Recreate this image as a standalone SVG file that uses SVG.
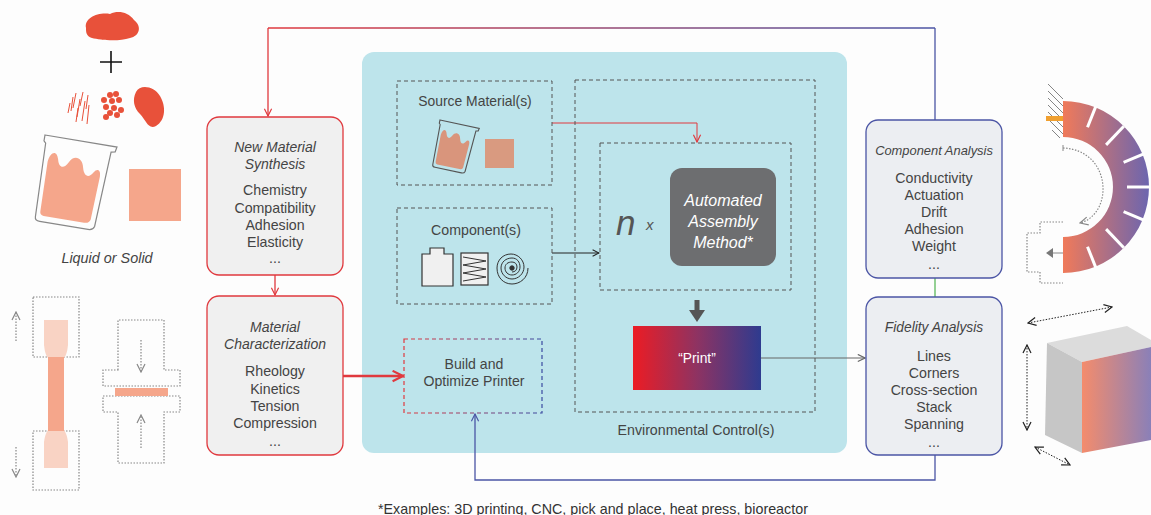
<svg xmlns="http://www.w3.org/2000/svg" width="1151" height="515" viewBox="0 0 1151 515">
  <style>
    text { font-family: "Liberation Sans", Arial, sans-serif; fill: #444; }
    .t { font-size: 14.2px; text-anchor: middle; }
    .ti { font-size: 14px; text-anchor: middle; font-style: italic; }
    .rbox { fill: #f0f0f0; stroke: #e0393e; stroke-width: 1.3; }
    .bbox { fill: #eceef2; stroke: #4b55a5; stroke-width: 1.3; }
    .dash { fill: none; stroke: #555; stroke-width: 1; stroke-dasharray: 4 3; }
    .dot { fill: none; stroke: #888; stroke-width: 1.2; stroke-dasharray: 1.5 1.5; }
    .beaker { fill: none; stroke: #888; stroke-width: 1.2; }
  </style>
  <defs>
    <marker id="arR" viewBox="0 0 10 10" refX="9" refY="5" markerWidth="9" markerHeight="9" markerUnits="userSpaceOnUse" orient="auto">
      <path d="M1,1 L9,5 L1,9" fill="none" stroke="#e0393e" stroke-width="1.3"/>
    </marker>
    <marker id="arRB" viewBox="0 0 10 10" refX="9" refY="5" markerWidth="13" markerHeight="13" markerUnits="userSpaceOnUse" orient="auto">
      <path d="M1,1 L9,5 L1,9" fill="none" stroke="#e0393e" stroke-width="1.6"/>
    </marker>
    <marker id="arB" viewBox="0 0 10 10" refX="9" refY="5" markerWidth="9" markerHeight="9" markerUnits="userSpaceOnUse" orient="auto">
      <path d="M1,1 L9,5 L1,9" fill="none" stroke="#4b55a5" stroke-width="1.3"/>
    </marker>
    <marker id="arK" viewBox="0 0 10 10" refX="9" refY="5" markerWidth="8" markerHeight="8" markerUnits="userSpaceOnUse" orient="auto">
      <path d="M1,1 L9,5 L1,9" fill="none" stroke="#222" stroke-width="1.3"/>
    </marker>
    <marker id="arG" viewBox="0 0 10 10" refX="9" refY="5" markerWidth="9" markerHeight="9" markerUnits="userSpaceOnUse" orient="auto">
      <path d="M1,1 L9,5 L1,9" fill="none" stroke="#666" stroke-width="1.3"/>
    </marker>
    <marker id="arD" viewBox="0 0 10 10" refX="9" refY="5" markerWidth="10" markerHeight="10" markerUnits="userSpaceOnUse" orient="auto-start-reverse">
      <path d="M1,1 L9,5 L1,9" fill="none" stroke="#222" stroke-width="1.2"/>
    </marker>
    <marker id="arL" viewBox="0 0 10 10" refX="9" refY="5" markerWidth="10" markerHeight="10" markerUnits="userSpaceOnUse" orient="auto">
      <path d="M1,1 L9,5 L1,9" fill="none" stroke="#888" stroke-width="1.2"/>
    </marker>
    <linearGradient id="gTop" gradientUnits="userSpaceOnUse" x1="268" y1="0" x2="935" y2="0">
      <stop offset="0" stop-color="#e0393e"/>
      <stop offset="1" stop-color="#4b55a5"/>
    </linearGradient>
    <linearGradient id="gBuild" gradientUnits="userSpaceOnUse" x1="404" y1="0" x2="542" y2="0">
      <stop offset="0" stop-color="#e0393e"/>
      <stop offset="1" stop-color="#3a4aa0"/>
    </linearGradient>
    <linearGradient id="gPrint" x1="0" y1="0" x2="1" y2="0">
      <stop offset="0" stop-color="#ec1c24"/>
      <stop offset="0.5" stop-color="#8e3362"/>
      <stop offset="1" stop-color="#2e3b8f"/>
    </linearGradient>
    <linearGradient id="gArc" gradientUnits="userSpaceOnUse" x1="1063" y1="0" x2="1150" y2="0">
      <stop offset="0" stop-color="#f07a5a"/>
      <stop offset="1" stop-color="#6a65b0"/>
    </linearGradient>
    <linearGradient id="gCube" gradientUnits="userSpaceOnUse" x1="1082" y1="0" x2="1151" y2="0">
      <stop offset="0" stop-color="#f48c6c"/>
      <stop offset="1" stop-color="#8a80b8"/>
    </linearGradient>
    <path id="beakerBody" d="M0,0 L73,0 L72,5 L68,6 L64,82 Q63,86 58,86 L9,86 Q4,86 4,82 L2,8 L0,6 Z"/>
    <path id="beakerFill" d="M7,26 C8,16 14,12 17,22 C19,30 24,31 28,23 C32,14 41,16 43,26 C45,34 50,36 54,29 C57,24 61,25 61,32 L59,76 Q58,80 53,80 L12,80 Q8,80 8,76 Z"/>
  </defs>

  <rect width="1151" height="515" fill="#fdfdfd"/>

  <!-- raw ingredients, left column -->
  <g id="ingredients">
    <path d="M86,28 C84,18 98,12 110,14 C118,10 128,12 134,20 C142,26 140,36 130,38 C118,42 100,40 92,38 C86,36 86,32 86,28 Z" fill="#e8513a"/>
    <path d="M100,62 L122,62 M111,51 L111,73" stroke="#111" stroke-width="1.6"/>
    <g stroke="#e8513a" stroke-width="1">
      <path d="M70,103 L68,113 M73,97 L71,111 M76,93 L73,108 M80,99 L77,117 M83,92 L80,106 M85,101 L82,121 M88,95 L86,109 M89,105 L87,124 M78,108 L76,122"/>
    </g>
    <g fill="#e8513a">
      <circle cx="110" cy="95" r="3"/><circle cx="116" cy="94" r="3"/><circle cx="104" cy="100" r="3"/>
      <circle cx="112" cy="101" r="3"/><circle cx="119" cy="100" r="3"/><circle cx="106" cy="107" r="3"/>
      <circle cx="114" cy="108" r="3"/><circle cx="121" cy="110" r="3"/><circle cx="110" cy="113" r="3"/>
      <circle cx="117" cy="115" r="3"/><circle cx="106" cy="117" r="3"/>
    </g>
    <path d="M136,92 C140,84 154,86 160,96 C166,106 166,120 156,126 C148,130 146,120 140,114 C134,108 132,100 136,92 Z" fill="#e8513a"/>
    <g transform="translate(45,135) rotate(9.5)">
      <use href="#beakerFill" fill="#f5a68b"/>
      <use href="#beakerBody" class="beaker"/>
    </g>
    <rect x="129" y="169" width="52" height="52" fill="#f5a68b"/>
    <text x="107" y="263" class="ti" style="font-size:14.4px">Liquid or Solid</text>
  </g>

  <!-- tensile and compression test sketches -->
  <g id="tests">
    <rect x="33" y="297" width="46" height="60" class="dot"/>
    <rect x="33" y="431" width="46" height="59" class="dot"/>
    <path d="M44,320 L68,320 L68,345 Q67,355 64,358 L64,430 Q67,434 68,442 L68,468 L44,468 L44,442 Q45,434 48,430 L48,358 Q45,355 44,345 Z" fill="#f9d3c4"/>
    <rect x="48" y="357" width="16" height="74" fill="#f5a68b"/>
    <path d="M16,341 L16,312" class="dot" stroke="#888" marker-end="url(#arL)"/>
    <path d="M16,447 L16,477" class="dot" stroke="#888" marker-end="url(#arL)"/>
    <path d="M118,370 L118,320 L164,320 L164,370 L180,370 L180,386 L103,386 L103,370 Z" class="dot"/>
    <path d="M103,396 L180,396 L180,412 L164,412 L164,463 L118,463 L118,412 L103,412 Z" class="dot"/>
    <rect x="115" y="388" width="53" height="8" fill="#f5a68b"/>
    <path d="M141,340 L141,372" class="dot" marker-end="url(#arL)"/>
    <path d="M141,448 L141,415" class="dot" marker-end="url(#arL)"/>
  </g>

  <!-- printing environment panel -->
  <rect x="362" y="52" width="485" height="401" rx="12" fill="#bde4eb"/>

  <g id="connectors" fill="none">
    <path d="M268,28 L935,28" stroke="url(#gTop)" stroke-width="1.3"/>
    <path d="M268,28 L268,116" stroke="#e0393e" stroke-width="1.3" marker-end="url(#arR)"/>
    <path d="M935,28 L935,120" stroke="#4b55a5" stroke-width="1.3"/>
    <path d="M275,275 L275,295" stroke="#e0393e" stroke-width="1.3" marker-end="url(#arR)"/>
    <path d="M343,376 L403,376" stroke="#e0393e" stroke-width="2.6" marker-end="url(#arRB)"/>
    <path d="M552,123 L697,123 L697,142" stroke="#e0393e" stroke-width="1" marker-end="url(#arR)"/>
    <path d="M552,253 L599,253" stroke="#222" stroke-width="1" marker-end="url(#arK)"/>
    <path d="M761,358 L865,358" stroke="#666" stroke-width="1.1" marker-end="url(#arG)"/>
    <path d="M935,278 L935,297" stroke="#5cb85c" stroke-width="1.3"/>
    <path d="M935,455 L935,480 L475,480 L475,414" stroke="#4b55a5" stroke-width="1.3" marker-end="url(#arB)"/>
    <path d="M697,300 L697,312" stroke="#555" stroke-width="5"/>
    <path d="M689,310 L705,310 L697,322 Z" fill="#555"/>
  </g>

  <g id="new-material-synthesis">
    <rect x="207" y="117" width="136" height="158" rx="12" class="rbox"/>
    <text x="275" y="152" class="ti">New Material</text>
    <text x="275" y="169" class="ti">Synthesis</text>
    <text x="275" y="195" class="t">Chemistry</text>
    <text x="275" y="213" class="t">Compatibility</text>
    <text x="275" y="230" class="t">Adhesion</text>
    <text x="275" y="247" class="t">Elasticity</text>
    <text x="275" y="263" class="t">...</text>
  </g>

  <g id="material-characterization">
    <rect x="207" y="296" width="136" height="159" rx="12" class="rbox"/>
    <text x="275" y="332" class="ti">Material</text>
    <text x="275" y="349" class="ti">Characterization</text>
    <text x="275" y="376" class="t">Rheology</text>
    <text x="275" y="394" class="t">Kinetics</text>
    <text x="275" y="411" class="t">Tension</text>
    <text x="275" y="428" class="t">Compression</text>
    <text x="275" y="446" class="t">...</text>
  </g>

  <g id="source-materials">
    <rect x="397" y="81" width="155" height="104" class="dash"/>
    <text x="475" y="106" class="t" style="font-size:13.9px">Source Material(s)</text>
    <g transform="translate(440,120) rotate(12) scale(0.55)">
      <use href="#beakerFill" fill="#d9957c"/>
      <use href="#beakerBody" fill="none" stroke="#555" stroke-width="2"/>
    </g>
    <rect x="485" y="139" width="29" height="29" fill="#d99a80"/>
  </g>

  <g id="components">
    <rect x="397" y="208" width="155" height="96" class="dash"/>
    <text x="476" y="235" class="t">Component(s)</text>
    <path d="M422,286 L422,254 L430,254 L430,248 L444,248 L444,254 L453,254 L453,286 Z" fill="#f0f0f0" stroke="#333" stroke-width="1.2"/>
    <rect x="461" y="253" width="27" height="32" fill="#f0f0f0" stroke="#333" stroke-width="1.2"/>
    <path d="M463,257 L486,261 L463,265 L486,269 L463,273 L486,277 L463,281" fill="none" stroke="#333" stroke-width="1"/>
    <g fill="none" stroke="#333" stroke-width="1">
      <path d="M528,268 C528,278 520,284 512,284 C503,284 497,277 497,268 C497,260 503,254 511,254 C518,254 524,260 524,267 C524,274 518,279 512,279 C506,279 501,274 501,268 C501,262 506,258 512,258 C517,258 520,262 520,267 C520,272 516,275 512,275 C508,275 505,272 505,268 C505,264 508,262 512,262 C515,262 517,264 517,267 C517,270 515,272 512,272"/>
      <circle cx="512" cy="268" r="2.2" fill="#333"/>
    </g>
  </g>

  <g id="build-printer">
    <rect x="404" y="339" width="138" height="74" fill="none" stroke="url(#gBuild)" stroke-width="1.2" stroke-dasharray="4 3"/>
    <text x="474" y="369" class="t" style="font-size:14.1px">Build and</text>
    <text x="474" y="386" class="t" style="font-size:14.1px">Optimize Printer</text>
  </g>

  <g id="environmental-control">
    <rect x="575" y="80" width="240" height="332" class="dash"/>
    <text x="696" y="435" class="t">Environmental Control(s)</text>
  </g>

  <g id="assembly-loop">
    <rect x="600" y="143" width="191" height="147" class="dash"/>
    <text x="616" y="235" style="font-size:35px;font-style:italic;fill:#555">n</text>
    <text x="646" y="230" style="font-size:15px;font-style:italic;fill:#555">x</text>
    <rect x="670" y="168" width="106" height="98" rx="12" fill="#6d6e70"/>
    <text x="723" y="206" class="ti" style="fill:#fff;font-size:16px">Automated</text>
    <text x="723" y="227" class="ti" style="fill:#fff;font-size:16px">Assembly</text>
    <text x="723" y="248" class="ti" style="fill:#fff;font-size:16px">Method*</text>
  </g>

  <g id="print">
    <rect x="633" y="326" width="128" height="64" fill="url(#gPrint)"/>
    <text x="697" y="363" class="t" style="fill:#fff;font-size:13.8px">“Print”</text>
  </g>

  <g id="component-analysis">
    <rect x="866" y="120" width="136" height="158" rx="12" class="bbox"/>
    <text x="934" y="155" class="ti" style="font-size:12.9px">Component Analysis</text>
    <text x="934" y="183" class="t">Conductivity</text>
    <text x="934" y="200" class="t">Actuation</text>
    <text x="934" y="217" class="t">Drift</text>
    <text x="934" y="234" class="t">Adhesion</text>
    <text x="934" y="251" class="t">Weight</text>
    <text x="934" y="269" class="t">...</text>
  </g>

  <g id="fidelity-analysis">
    <rect x="866" y="297" width="136" height="158" rx="12" class="bbox"/>
    <text x="934" y="332" class="ti" style="font-size:13.8px">Fidelity Analysis</text>
    <text x="934" y="361" class="t">Lines</text>
    <text x="934" y="378" class="t">Corners</text>
    <text x="934" y="395" class="t">Cross-section</text>
    <text x="934" y="412" class="t">Stack</text>
    <text x="934" y="429" class="t">Spanning</text>
    <text x="934" y="447" class="t">...</text>
  </g>

  <!-- bending actuator sketch -->
  <g id="actuator">
    <g stroke="#666" stroke-width="0.8">
      <path d="M1048,84 L1063,99 M1048,91 L1063,106 M1048,98 L1063,113 M1048,105 L1063,120 M1048,112 L1063,127 M1048,119 L1063,134 M1052,130 L1060,138"/>
    </g>
    <path d="M1063,101 A86,86 0 0 1 1063,273 L1063,237 A50,50 0 0 0 1063,137 Z" fill="url(#gArc)"/>
    <rect x="1046" y="116" width="17" height="5" fill="#f0a030"/>
    <g stroke="#fff" stroke-width="3">
      <path d="M1087.5,127.3 L1095.9,106.1"/>
      <path d="M1106.1,144.9 L1123.8,126.2"/>
      <path d="M1123.6,162.4 L1144.4,153.6"/>
      <path d="M1127,187 L1149,187"/>
      <path d="M1123.6,211.6 L1144.4,220.4"/>
      <path d="M1106.1,229.1 L1123.8,247.8"/>
      <path d="M1087.5,246.7 L1095.9,267.9"/>
    </g>
    <path d="M1063,145 L1063,151" stroke="#888" stroke-width="1"/>
    <path d="M1063,148 C1112,150 1114,214 1080,223" class="dot" stroke-width="1" marker-end="url(#arL)"/>
    <path d="M1063,222 L1040,222 L1040,233 L1027,233 L1027,272 L1040,272 L1040,283 L1063,283" class="dot" stroke-width="1"/>
    <path d="M1052,253 L1063,253" stroke="#888" stroke-width="1"/>
    <path d="M1046,253 L1053,248 L1053,258 Z" fill="#777"/>
  </g>

  <!-- printed cube sketch -->
  <g id="cube">
    <path d="M1047,343 L1127,326 L1151,340 L1151,347 L1082,362 Z" fill="#dcdcdc"/>
    <path d="M1047,343 L1082,362 L1082,453 L1045,435 Z" fill="#c6c6c6"/>
    <path d="M1082,362 L1151,347 L1151,440 L1082,453 Z" fill="url(#gCube)"/>
    <g fill="none" stroke="#222" stroke-width="1" stroke-dasharray="1.5 1.5">
      <path d="M1028,323 L1112,307" marker-start="url(#arD)" marker-end="url(#arD)"/>
      <path d="M1027,345 L1027,430" marker-start="url(#arD)" marker-end="url(#arD)"/>
      <path d="M1035,447 L1070,465" marker-start="url(#arD)" marker-end="url(#arD)"/>
    </g>
  </g>

  <text x="378" y="514" style="font-size:14.3px;fill:#333">*Examples: 3D printing, CNC, pick and place, heat press, bioreactor</text>
</svg>
